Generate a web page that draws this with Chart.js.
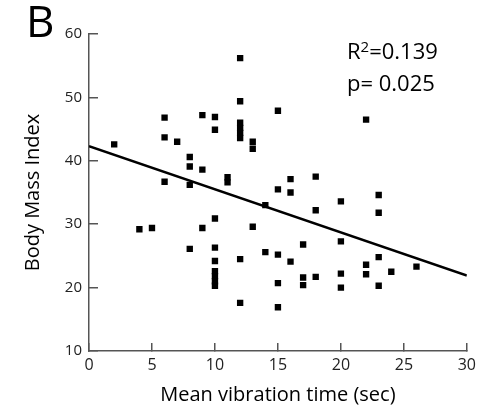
<!DOCTYPE html>
<html>
<head>
<meta charset="utf-8">
<script src="https://cdn.jsdelivr.net/npm/chart.js@4"></script>
<style>
  html, body { margin: 0; padding: 0; background: #fff; }
  #wrap { width: 489px; height: 410px; position: relative; }
</style>
</head>
<body>
<div id="wrap"><canvas id="scatterChart"></canvas></div>
<script>
// mean vibration time (sec) per subject
var vibTime = [2, 4, 5, 6, 6, 6, 7, 8, 8, 8, 8, 9, 9, 9,
  10, 10, 10, 10, 10, 10, 10, 10, 10, 11, 11,
  12, 12, 12, 12, 12, 12, 12, 12, 13, 13, 13, 14, 14,
  15, 15, 15, 15, 15, 16, 16, 16, 17, 17, 17, 18, 18, 18,
  20, 20, 20, 20, 22, 22, 22, 23, 23, 23, 23, 24, 26];
// body mass index per subject
var bmi = [42.6, 29.2, 29.4, 46.8, 43.7, 36.7, 43.0, 40.6, 39.1, 36.2, 26.1, 47.2, 38.6, 29.4,
  46.9, 44.9, 30.9, 26.3, 24.2, 22.6, 21.8, 21.0, 20.3, 37.4, 36.6,
  56.2, 49.4, 46.0, 45.2, 44.4, 43.6, 24.5, 17.6, 43.0, 41.9, 29.6, 33.0, 25.6,
  47.9, 35.5, 25.2, 20.7, 16.9, 37.1, 35.0, 24.1, 26.8, 21.6, 20.4, 37.5, 32.2, 21.7,
  33.6, 27.3, 22.2, 20.0, 46.5, 23.6, 22.1, 34.6, 31.8, 24.8, 20.3, 22.5, 23.3];
// regression line ends
var fitX = [0, 30];
var fitY = [42.3, 21.9];

var xTicks = [0, 5, 10, 15, 20, 25, 30];
var yTicks = [10, 20, 30, 40, 50, 60];

var points = vibTime.map(function (v, i) { return { x: v, y: bmi[i] }; });
var fitLine = fitX.map(function (v, i) { return { x: v, y: fitY[i] }; });

var fontFam = "'Open Sans', 'DejaVu Sans', sans-serif";
var axisColor = '#555';

// panel letter and stats text
var labelsPlugin = {
  id: 'panelText',
  afterDraw: function (chart) {
    var ctx = chart.ctx;
    ctx.save();
    ctx.fillStyle = '#000';
    ctx.textAlign = 'left';
    ctx.textBaseline = 'alphabetic';
    ctx.font = '44px ' + fontFam;
    ctx.fillText('B', 26, 37);
    ctx.font = '22px ' + fontFam;
    var x = 347;
    ctx.fillText('R', x, 59);
    x += ctx.measureText('R').width;
    ctx.font = '15px ' + fontFam;
    ctx.fillText('2', x, 52);
    x += ctx.measureText('2').width;
    ctx.font = '22px ' + fontFam;
    ctx.fillText('=0.139', x, 59);
    ctx.fillText('p= 0.025', 347, 91);
    ctx.restore();
  }
};

var config = {
  type: 'scatter',
  data: {
    datasets: [{
      label: 'subjects',
      data: points,
      pointStyle: 'rect',
      pointRadius: 4.5,
      pointBorderWidth: 0,
      backgroundColor: '#000',
      borderColor: '#000'
    }, {
      label: 'fit',
      data: fitLine,
      showLine: true,
      pointRadius: 0,
      borderColor: '#000',
      borderWidth: 2.5,
      fill: false
    }]
  },
  options: {
    responsive: true,
    maintainAspectRatio: false,
    animation: false,
    layout: { padding: { top: 34, right: 22, left: 0, bottom: 0 } },
    plugins: {
      legend: { display: false },
      tooltip: { enabled: false }
    },
    scales: {
      x: {
        type: 'linear',
        min: 0,
        max: 30,
        afterBuildTicks: function (s) { s.ticks = xTicks.map(function (v) { return { value: v }; }); },
        afterFit: function (s) { s.height = 59; },
        border: { color: axisColor, width: 1.5 },
        grid: { drawOnChartArea: false, color: axisColor, lineWidth: 1.5, tickLength: -8 },
        ticks: { padding: 13, color: '#222', font: { family: fontFam, size: 16 } },
        title: {
          display: true,
          text: 'Mean vibration time (sec)',
          color: '#000',
          font: { family: fontFam, size: 20 },
          padding: { top: 0, bottom: 3 }
        }
      },
      y: {
        type: 'linear',
        min: 10,
        max: 60,
        afterBuildTicks: function (s) { s.ticks = yTicks.map(function (v) { return { value: v }; }); },
        afterFit: function (s) { s.width = 89; },
        border: { color: axisColor, width: 1.5 },
        grid: { drawOnChartArea: false, color: axisColor, lineWidth: 1.5, tickLength: -9 },
        ticks: { padding: 16, color: '#222', font: { family: fontFam, size: 15 } },
        title: {
          display: true,
          text: 'Body Mass Index',
          color: '#000',
          font: { family: fontFam, size: 20 },
          padding: { top: 21, bottom: 0 }
        }
      }
    }
  },
  plugins: [labelsPlugin]
};

var scatterChart = new Chart(
  document.getElementById('scatterChart'),
  config
);
</script>
</body>
</html>
